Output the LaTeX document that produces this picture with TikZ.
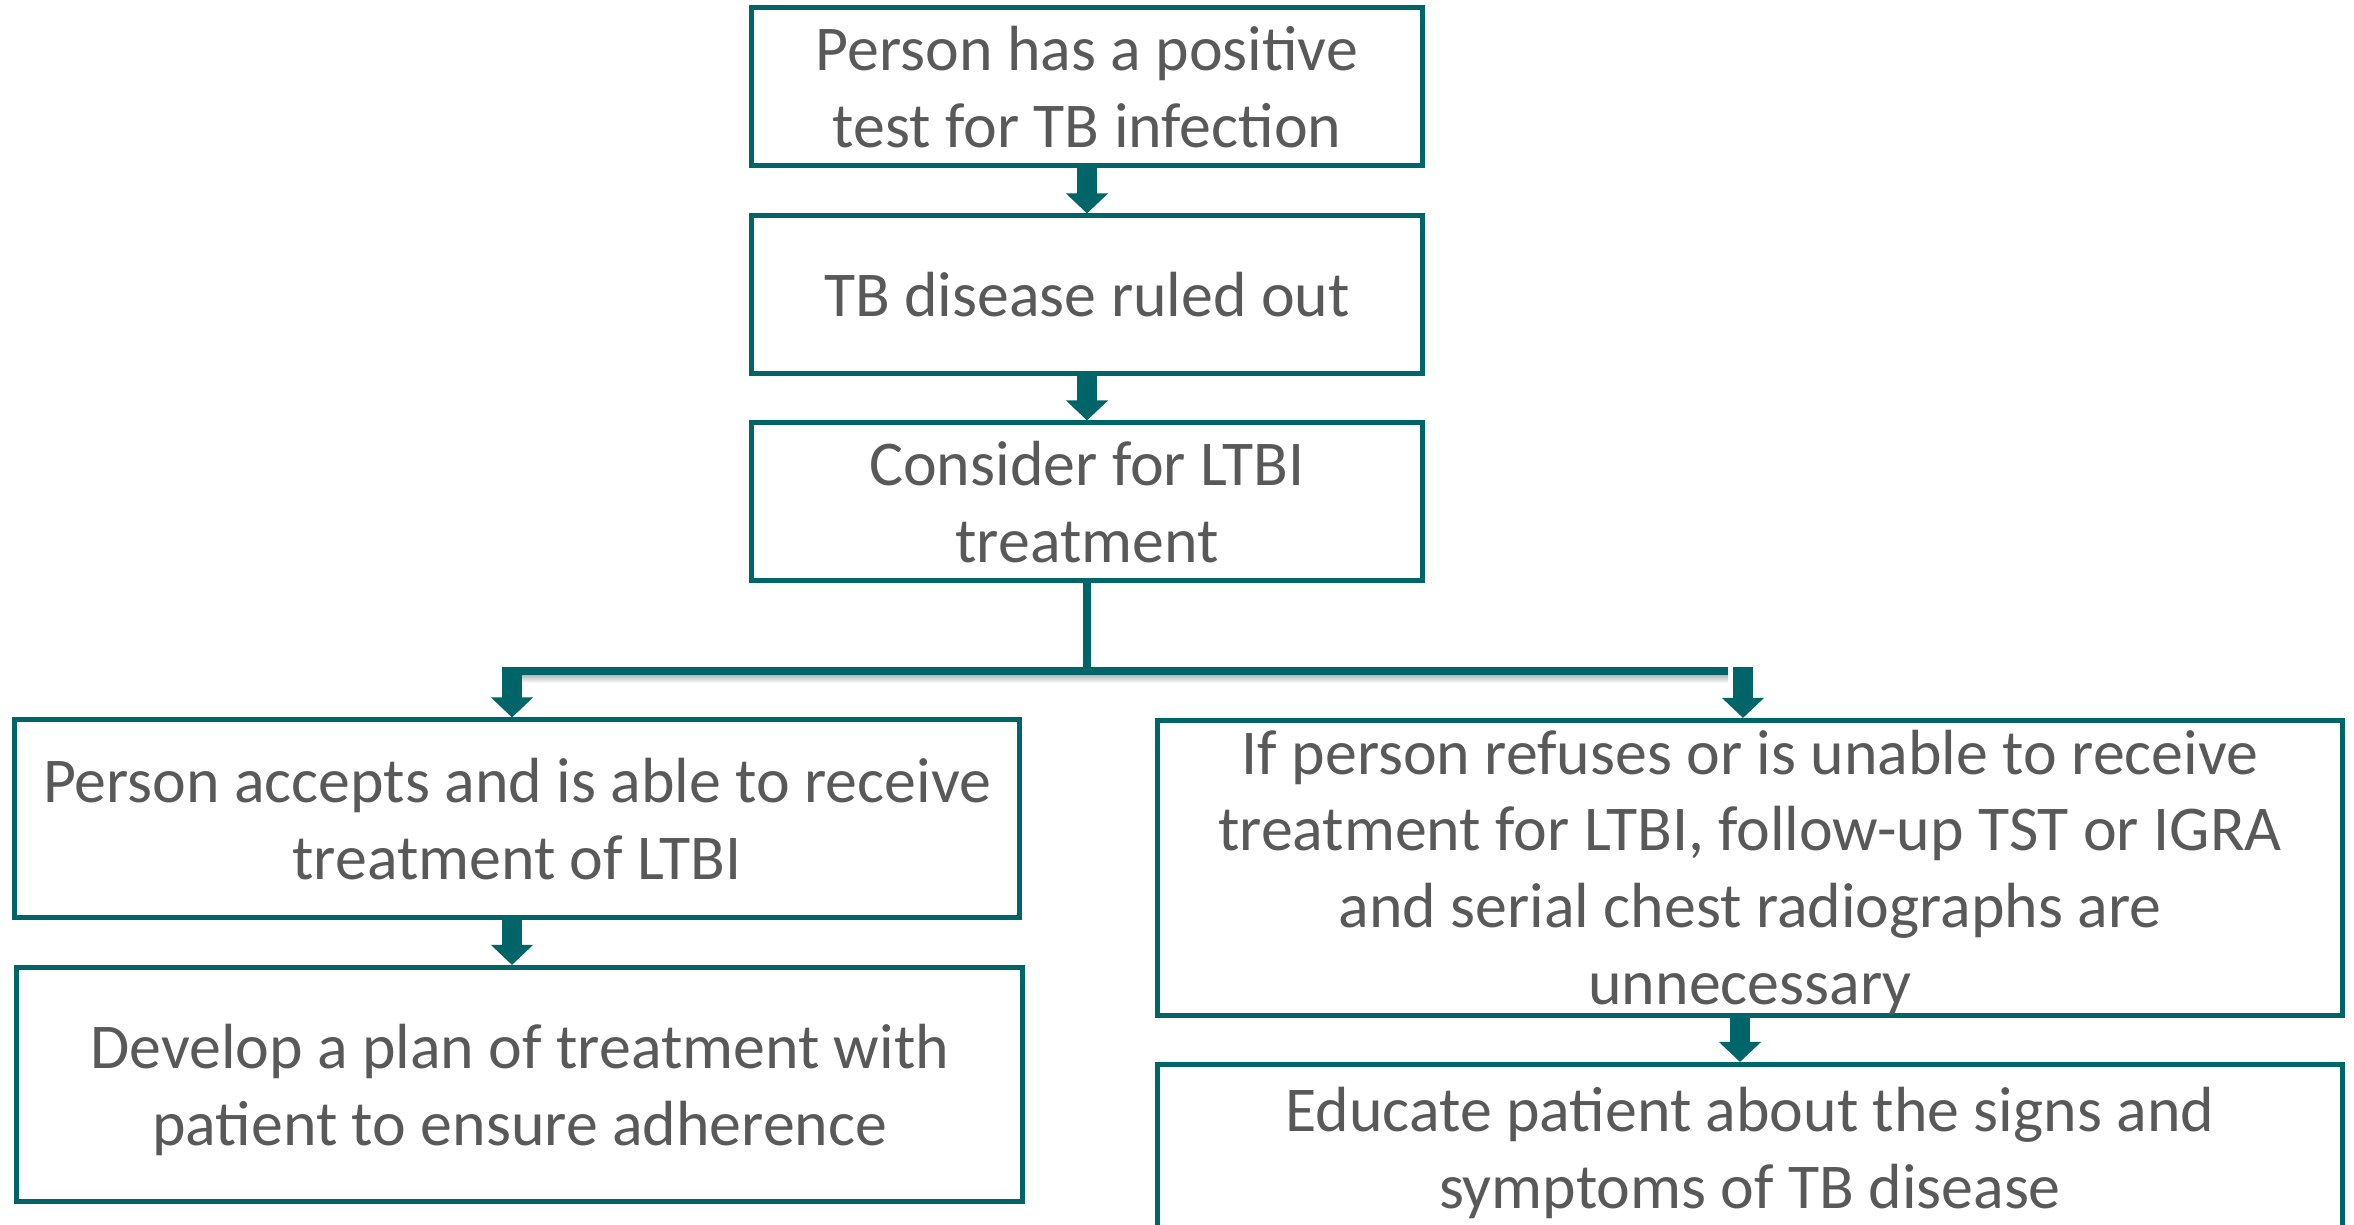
\documentclass[tikz,border=0pt]{standalone}
\usepackage{fontspec}
\setmainfont{Carlito}
\usetikzlibrary{arrows.meta,calc}
\definecolor{boxteal}{RGB}{0,101,104}
\definecolor{txt}{RGB}{89,89,89}
\newcommand{\boxtext}[2][0cm]{\raisebox{-#1}[\dimexpr\height-0.2cm\relax][\dimexpr\depth-0.2cm\relax]{\begin{tabular}{@{}c@{}}#2\end{tabular}}}
\tikzset{
  box/.style={draw=boxteal, line width=0.05cm, fill=white, inner sep=0pt, align=center,
    text=txt, font=\fontsize{18.15}{21.85}\selectfont},
  arr/.style={draw=boxteal, line width=0.2cm, -{Triangle[width=0.41cm,length=0.2cm]}, fill=boxteal},
  thinline/.style={draw=boxteal, line width=0.08cm},
  barline/.style={draw=boxteal, line width=0.08cm},
}
\begin{document}
\begin{tikzpicture}[x=0.01cm,y=-0.01cm]
\useasboundingbox (0,0) rectangle (2354,1225);
\clip (0,0) rectangle (2354,1225);
\node[box, minimum width=6.70cm, minimum height=1.575cm] (b1) at (1087,86.75) {Person has a positive\\test for TB infection};
\node[box, minimum width=6.70cm, minimum height=1.575cm] (b2) at (1087,294.75) {TB disease ruled out};
\node[box, minimum width=6.70cm, minimum height=1.575cm] (b3) at (1087,501.75) {Consider for LTBI\\treatment};
\node[box, minimum width=10.05cm, minimum height=1.975cm] (b4) at (517,818.75) {Person accepts and is able to receive\\treatment of LTBI};
\node[box, minimum width=10.055cm, minimum height=2.34cm] (b5) at (519.75,1084.5) {\boxtext[0.075cm]{Develop a plan of treatment with\\patient to ensure adherence}};
\node[box, minimum width=11.85cm, minimum height=2.95cm] (b6) at (1750,868) {\boxtext[0.06cm]{If person refuses or is unable to receive\\treatment for LTBI, follow-up TST or IGRA\\and serial chest radiographs are\\unnecessary}};
\node[box, minimum width=11.85cm, minimum height=1.675cm] (b7) at (1750,1148.25) {\boxtext[0.06cm]{Educate patient about the signs and\\symptoms of TB disease}};
\coordinate (barL) at (512,671);
\coordinate (barR) at (1728,671);
\coordinate (aL) at (512,667);
\coordinate (aR) at (1743,667);
\shade[top color=black!28, bottom color=white] (516,675) rectangle (1728,683);
\draw[thinline] (b3.south) -- (b3.south |- barL);
\draw[barline] (barR) -- (barL);
\draw[arr] (b1.south) -- (b2.north);
\draw[arr] (b2.south) -- (b3.north);
\draw[arr] (aL) -- (aL |- b4.north);
\draw[arr] (aR) -- (aR |- b6.north);
\draw[arr] (b4.south -| aL) -- (b5.north -| aL);
\draw[arr] ($(b6.south)+(-10,0)$) -- ($(b7.north)+(-10,0)$);
\end{tikzpicture}
\end{document}
